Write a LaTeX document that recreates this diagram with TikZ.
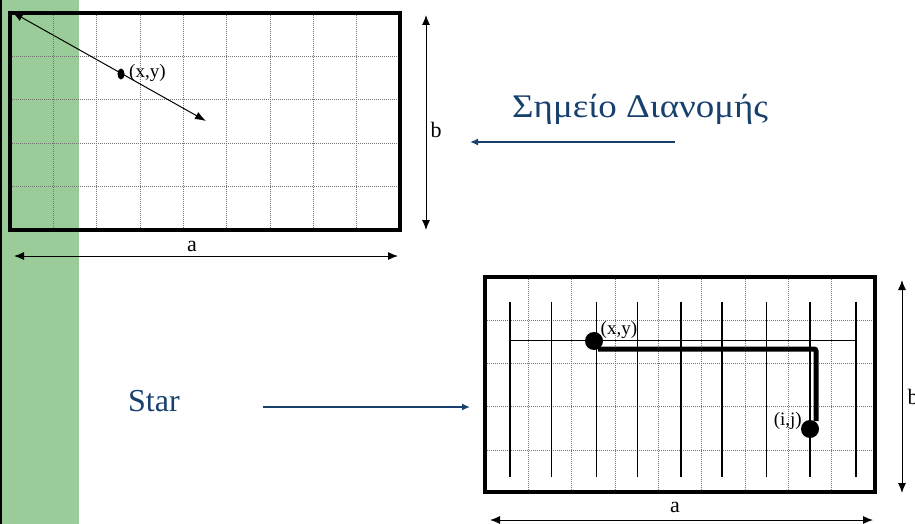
\documentclass[tikz,border=0pt]{standalone}
\usepackage{fontspec}
\setmainfont{Liberation Serif}
\usetikzlibrary{arrows.meta,shapes.geometric}
\definecolor{stripgreen}{HTML}{99CC99}
\definecolor{navy}{HTML}{17406D}
\begin{document}
\begin{tikzpicture}[x=1pt,y=-1pt,
  gridline/.style={black!55, line width=0.7pt, dash pattern=on 1pt off 1pt},
  frame/.style={line width=4pt},
  dimarrow/.style={line width=1pt, {Latex[length=10pt,width=8pt]}-{Latex[length=10pt,width=8pt]}},
  bluearrow/.style={navy, line width=2pt, -{Latex[length=8pt,width=7pt]}},
  lbl/.style={inner sep=0pt, font=\fontsize{22}{24}\selectfont},
  ptlbl/.style={inner sep=0pt, font=\fontsize{19}{21}\selectfont},
  bigtext/.style={inner sep=0pt, text=navy, font=\fontsize{32}{36}\selectfont},
  bigdot/.style={circle, fill=black, inner sep=0pt, minimum size=18pt},
  rail/.style={line width=1.2pt},
  ]
\useasboundingbox (0,0) rectangle (915,524);
% green strip
\fill[stripgreen] (1,0) rectangle (79,524);
\draw[line width=1.5pt] (0.75,0) -- (0.75,524);

% ---------- top rectangle ----------
\foreach \i in {1,...,8} \draw[gridline] ({10+\i*43.33},13) -- ({10+\i*43.33},229.5);
\foreach \j in {1,...,4} \draw[gridline] (10,{13+\j*43.3}) -- (400,{13+\j*43.3});
\draw[frame] (10,13) rectangle (400,229.5);

\coordinate (d0) at (12,12);
\coordinate (d1) at (206,121);
\draw[line width=1pt, {Latex[length=11pt,width=8pt]}-{Latex[length=11pt,width=8pt]}] (d0) -- (d1);
\node[ellipse, fill=black, inner sep=0pt, minimum width=7pt, minimum height=11pt] (xy1) at (121,74) {};
\node[ptlbl, anchor=south west] (xy1l) at (129,82) {(x,y)};

\coordinate (b1s) at (426,15);
\coordinate (b1e) at (426,230);
\draw[dimarrow] (b1s) -- (b1e);
\node[lbl] (b1l) at (436,130) {b};

\coordinate (a1s) at (14,256);
\coordinate (a1e) at (398,256);
\draw[dimarrow] (a1s) -- (a1e);
\node[lbl] (a1l) at (192,246) {a};

% ---------- texts and blue arrows ----------
\node[bigtext, anchor=base west, font=\fontsize{33}{36}\selectfont] (greek) at (512,117.5) {\scalebox{1.12}[1]{Σημείο Διανομής}};
\coordinate (g0) at (675,142);
\coordinate (g1) at (470,142);
\draw[bluearrow] (g0) -- (g1);

\node[bigtext, anchor=base west] (star) at (128,411.5) {Star};
\coordinate (s0) at (263,407);
\coordinate (s1) at (470,407);
\draw[bluearrow] (s0) -- (s1);

% ---------- bottom rectangle ----------
\foreach \i in {1,...,8} \draw[gridline] ({485+\i*43.33},277) -- ({485+\i*43.33},492);
\foreach \j in {1,...,4} \draw[gridline] (485,{276.7+\j*43.33}) -- (875,{276.7+\j*43.33});
\foreach \x in {510,551.7,596.7,637.7,681,722,766.7,810,856}
  \draw[rail] (\x,301.7) -- (\x,476.7);
\coordinate (h0) at (509,340.3);
\coordinate (h1) at (857,340.3);
\draw[line width=1pt] (h0) -- (h1);
\draw[frame] (485,277) rectangle (875,492);

\node[bigdot] (xy2) at (594,341) {};
\node[bigdot] (ij) at (810,429) {};
\coordinate (c1) at (816,349);
\coordinate (c2) at (816,421);
\draw[line width=5pt, rounded corners=2pt] (xy2.center) ++(4,8) -- (c1) -- (c2);
\node[ptlbl, anchor=south west] (xy2l) at (600.5,339) {(x,y)};
\node[ptlbl, anchor=south east] (ijl) at (802,430) {(i,j)};

\coordinate (b2s) at (902,280);
\coordinate (b2e) at (902,493);
\draw[dimarrow] (b2s) -- (b2e);
\node[lbl] (b2l) at (913,397) {b};

\coordinate (a2s) at (490,520);
\coordinate (a2e) at (873,520);
\draw[dimarrow] (a2s) -- (a2e);
\node[lbl] (a2l) at (675,507.5) {a};
\end{tikzpicture}
\end{document}
